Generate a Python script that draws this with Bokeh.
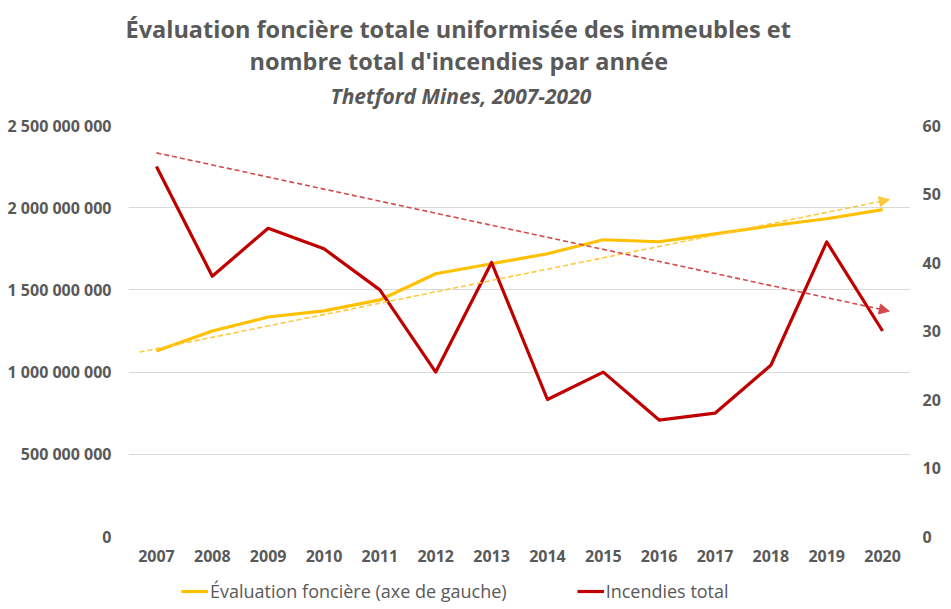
from bokeh.plotting import figure
from bokeh.layouts import column
from bokeh.models import (Range1d, LinearAxis, FixedTicker, Title, Legend, LegendItem,
                          Arrow, NormalHead, ColumnDataSource)
from bokeh.embed import file_html
from bokeh.resources import INLINE

# ---- data ----
years = list(range(2007, 2021))
evaluation = [1128e6, 1250e6, 1335e6, 1372e6, 1439e6, 1598e6, 1659e6,
              1720e6, 1805e6, 1793e6, 1841e6, 1890e6, 1933e6, 1988e6]
incendies = [54, 38, 45, 42, 36, 24, 40, 20, 24, 17, 18, 25, 43, 30]

left_ticks = [0, 500_000_000, 1_000_000_000, 1_500_000_000, 2_000_000_000, 2_500_000_000]
right_ticks = [0, 10, 20, 30, 40, 50, 60]

# trend arrows
trend_eval_x = [2006.7, 2020.12]
trend_eval_y = [1.122e9, 2.049e9]
trend_fire_x = [2007.0, 2020.12]
trend_fire_y = [56.0, 32.9]

FONT = "Open Sans"
GRAY = "#595959"
YELLOW = "#FFC000"
RED = "#C00000"
W = 943

p = figure(width=W, height=579, output_backend="svg", toolbar_location=None,
           x_range=Range1d(2006.5, 2020.5), y_range=Range1d(0, 2.5e9),
           min_border_left=128, min_border_right=32, min_border_top=120,
           min_border_bottom=43)
p.outline_line_color = None
p.extra_y_ranges = {"fires": Range1d(0, 60)}

right = LinearAxis(y_range_name="fires", ticker=FixedTicker(ticks=right_ticks))
p.add_layout(right, "right")

for ax in (p.xaxis[0], p.yaxis[0], right):
    ax.axis_line_color = None
    ax.major_tick_line_color = None
    ax.minor_tick_line_color = None
    ax.major_tick_out = 0
    ax.major_tick_in = 0
    ax.minor_tick_out = 0
    ax.major_label_text_font = FONT
    ax.major_label_text_font_size = "16px"
    ax.major_label_text_font_style = "bold"
    ax.major_label_text_color = GRAY

p.xaxis.ticker = FixedTicker(ticks=years)
p.xaxis.major_label_standoff = 13
p.yaxis[0].ticker = FixedTicker(ticks=left_ticks)
p.yaxis[0].major_label_overrides = {t: f"{t:,}".replace(",", " ") for t in left_ticks}
p.yaxis[0].major_label_standoff = 17
right.major_label_standoff = 12

p.xgrid.visible = False
p.ygrid.grid_line_color = "#D9D9D9"
p.ygrid.grid_line_width = 1

# trend arrows
src_te = ColumnDataSource(dict(x0=[trend_eval_x[0]], y0=[trend_eval_y[0]],
                               x1=[trend_eval_x[1]], y1=[trend_eval_y[1]]))
src_tf = ColumnDataSource(dict(x0=[trend_fire_x[0]], y0=[trend_fire_y[0]],
                               x1=[trend_fire_x[1]], y1=[trend_fire_y[1]]))
p.add_layout(Arrow(source=src_te, x_start="x0", y_start="y0", x_end="x1", y_end="y1",
                   line_color="#FFC83D", line_width=1.6, line_dash="5 3",
                   end=NormalHead(size=10, fill_color="#FFC83D", line_color="#FFC83D")))
p.add_layout(Arrow(source=src_tf, x_start="x0", y_start="y0", x_end="x1", y_end="y1",
                   y_range_name="fires",
                   line_color="#D24B4B", line_width=1.6, line_dash="5 3",
                   end=NormalHead(size=10, fill_color="#D24B4B", line_color="#D24B4B")))

# series
r_eval = p.line(years, evaluation, line_color=YELLOW, line_width=3.2, line_join="round")
r_fire = p.line(years, incendies, line_color=RED, line_width=3.2, line_join="round",
                y_range_name="fires")

# titles (first added sits closest to the plot)
p.add_layout(Title(text="Thetford Mines, 2007-2020", align="left", offset=202, standoff=32,
                   text_font=FONT, text_font_size="21px", text_font_style="bold italic",
                   text_color=GRAY), "above")
p.add_layout(Title(text="nombre total d'incendies par année", align="left", offset=121,
                   standoff=-26, text_font=FONT, text_font_size="23.5px",
                   text_font_style="bold", text_color=GRAY), "above")
p.add_layout(Title(text="Évaluation foncière totale uniformisée des immeubles et", align="left",
                   offset=-3, standoff=21, text_font=FONT, text_font_size="23.5px",
                   text_font_style="bold", text_color=GRAY), "above")

# legend strip below the chart (proxy lines lie outside its view)
leg = figure(width=W, height=24, output_backend="svg", toolbar_location=None,
             min_border=0, x_axis_type=None, y_axis_type=None,
             x_range=Range1d(0, 1), y_range=Range1d(0, 1))
leg.outline_line_color = None
l_eval = leg.line(years, evaluation, line_color=YELLOW, line_width=3.2)
l_fire = leg.line(years, incendies, line_color=RED, line_width=3.2)
legend = Legend(items=[LegendItem(label="Évaluation foncière (axe de gauche)", renderers=[l_eval]),
                       LegendItem(label="Incendies total", renderers=[l_fire])],
                location=(53, 0), orientation="horizontal",
                border_line_color=None, background_fill_alpha=0,
                label_text_font=FONT, label_text_font_size="18px", label_text_color=GRAY,
                glyph_width=27, glyph_height=22, label_height=22, label_standoff=2,
                spacing=70, padding=0, margin=0)
leg.add_layout(legend, "center")

layout = column(p, leg, spacing=0)
open("out.html", "w").write(file_html(layout, INLINE))
